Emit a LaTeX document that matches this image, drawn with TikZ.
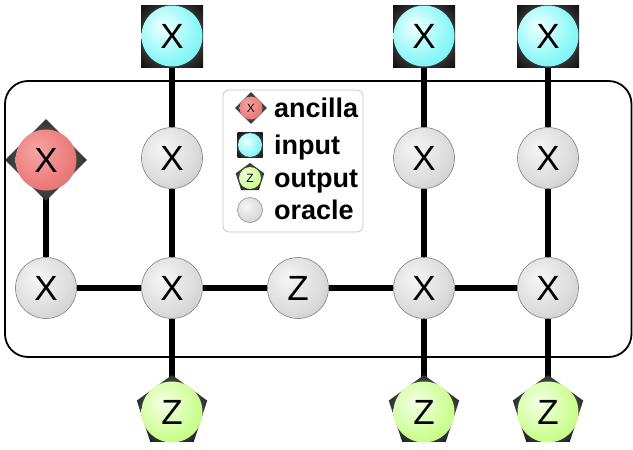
\documentclass[tikz,border=0pt]{standalone}
\usepackage{fontspec}
\setmainfont{Liberation Sans}
\usetikzlibrary{shapes.geometric}
\definecolor{grayin}{HTML}{F6F6F6}
\definecolor{graymid}{HTML}{DCDCDC}
\definecolor{grayout}{HTML}{B0B0B0}
\definecolor{cyanin}{HTML}{EFFFFF}
\definecolor{cyanmid}{HTML}{90F8F8}
\definecolor{cyanout}{HTML}{3CE6EC}
\definecolor{redin}{HTML}{F7A4A4}
\definecolor{redmid}{HTML}{EC7E7E}
\definecolor{redout}{HTML}{CF5656}
\definecolor{greenin}{HTML}{F4FFE6}
\definecolor{greenmid}{HTML}{CFFF98}
\definecolor{greenout}{HTML}{A6EE4E}
\definecolor{darkin}{HTML}{404040}
\definecolor{darkout}{HTML}{000000}
\pgfdeclareradialshading{grayball}{\pgfpoint{-8bp}{8bp}}{color(0bp)=(grayin); color(25bp)=(graymid); color(58bp)=(grayout); color(100bp)=(grayout)}
\pgfdeclareradialshading{cyanball}{\pgfpoint{-8bp}{8bp}}{color(0bp)=(cyanin); color(25bp)=(cyanmid); color(58bp)=(cyanout); color(100bp)=(cyanout)}
\pgfdeclareradialshading{redball}{\pgfpoint{-8bp}{8bp}}{color(0bp)=(redin); color(25bp)=(redmid); color(58bp)=(redout); color(100bp)=(redout)}
\pgfdeclareradialshading{greenball}{\pgfpoint{-8bp}{8bp}}{color(0bp)=(greenin); color(25bp)=(greenmid); color(58bp)=(greenout); color(100bp)=(greenout)}
\pgfdeclareradialshading{darkframe}{\pgfpoint{0bp}{0bp}}{color(0bp)=(darkin); color(20bp)=(darkin); color(40bp)=(darkout); color(100bp)=(darkout)}
\pgfdeclarelayer{background}
\pgfsetlayers{background,main}
\tikzset{
  lbl/.style={font=\fontsize{35}{35}\selectfont},
  ball/.style={circle, inner sep=0pt, minimum size=61pt, draw=gray, line width=0.6pt, lbl},
  oracle/.style={ball, shading=grayball},
  inball/.style={ball, shading=cyanball, draw=none},
  ancball/.style={ball, shading=redball, draw=none},
  outball/.style={ball, shading=greenball, draw=none},
  insq/.style={rectangle, minimum size=62pt, inner sep=0pt, shading=darkframe},
  ancdia/.style={diamond, minimum width=82pt, minimum height=82pt, inner sep=0pt, shading=darkframe},
  outpent/.style={regular polygon, regular polygon sides=5, minimum size=74pt, inner sep=0pt, shading=darkframe},
  wire/.style={line width=5.5pt, black},
  legtext/.style={anchor=base west, font=\bfseries\fontsize{27}{27}\selectfont, inner sep=0pt},
  smalllbl/.style={font=\fontsize{12}{12}\selectfont},
}
\begin{document}
\begin{tikzpicture}[x=1pt,y=-1pt]
\useasboundingbox (0,0) rectangle (633,450);
% frame corners
\coordinate (fA) at (5,81);
\coordinate (fB) at (631.5,357);
% main row
\node[oracle] (m1) at (46,288) {X};
\node[oracle] (m2) at (172,288) {X};
\node[oracle] (m3) at (298,288) {Z};
\node[oracle] (m4) at (424,288) {X};
\node[oracle] (m5) at (548,288) {X};
% upper row
\node[oracle] (u2) at (172,158) {X};
\node[oracle] (u4) at (424,158) {X};
\node[oracle] (u5) at (548,158) {X};
% ancilla
\node[ancdia] (ad) at (46,160) {};
\node[ancball] (a1) at (46,160) {X};
% inputs
\node[insq] (s2) at (172,36) {};
\node[inball] (i2) at (172,36) {X};
\node[insq] (s4) at (424,36) {};
\node[inball] (i4) at (424,36) {X};
\node[insq] (s5) at (548,36) {};
\node[inball] (i5) at (548,36) {X};
% outputs
\node[outpent] (p2) at (172,412) {};
\node[outball] (o2) at (172,412) {Z};
\node[outpent] (p4) at (424,412) {};
\node[outball] (o4) at (424,412) {Z};
\node[outpent] (p5) at (548,412) {};
\node[outball] (o5) at (548,412) {Z};
% legend
\node[draw=gray!45, line width=0.8pt, rounded corners=6pt, fill=white, minimum width=140pt, minimum height=142pt, inner sep=0pt] (leg) at (293,161) {};
\node[diamond, minimum width=32pt, minimum height=32pt, inner sep=0pt, shading=darkframe] (lad) at (251,108) {};
\node[circle, minimum size=23pt, inner sep=0pt, shading=redball, smalllbl] (la) at (251,108) {X};
\node[rectangle, minimum size=25pt, inner sep=0pt, shading=darkframe] (lis) at (250,145) {};
\node[circle, minimum size=24pt, inner sep=0pt, shading=cyanball] (li) at (250,145) {};
\node[regular polygon, regular polygon sides=5, minimum size=30pt, inner sep=0pt, shading=darkframe] (lop) at (250,178) {};
\node[circle, minimum size=22pt, inner sep=0pt, shading=greenball, smalllbl] (lo) at (250,178) {Z};
\node[circle, minimum size=25pt, inner sep=0pt, shading=grayball, draw=gray, line width=0.5pt] (lr) at (250,210) {};
\node[legtext] (ta) at (274,117) {ancilla};
\node[legtext] (ti) at (274,154) {input};
\node[legtext] (to) at (274,187) {output};
\node[legtext] (tr) at (274,219) {oracle};
\begin{pgfonlayer}{background}
\draw[line width=1.8pt, rounded corners=23pt] (fA) rectangle (fB);
\draw[wire] (m1) -- (m2) -- (m3) -- (m4) -- (m5);
\draw[wire] (a1) -- (m1);
\draw[wire] (i2) -- (u2) -- (m2) -- (o2);
\draw[wire] (i4) -- (u4) -- (m4) -- (o4);
\draw[wire] (i5) -- (u5) -- (m5) -- (o5);
\end{pgfonlayer}
\end{tikzpicture}
\end{document}
